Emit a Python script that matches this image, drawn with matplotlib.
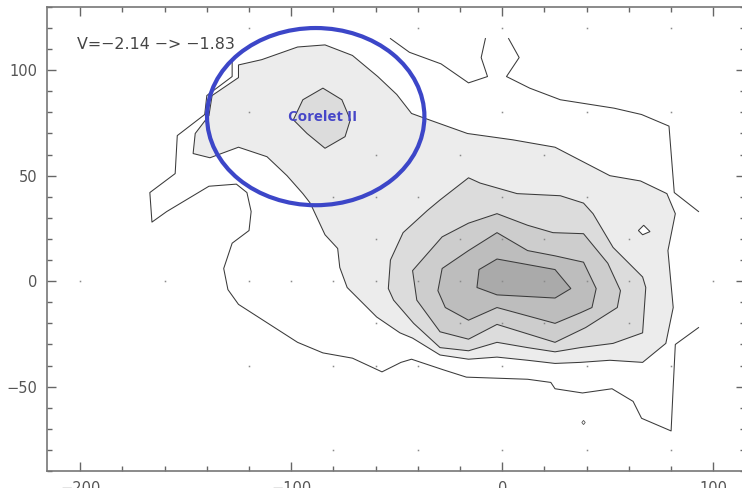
import matplotlib
matplotlib.use('Agg')
import matplotlib.pyplot as plt
from matplotlib.patches import Ellipse
from matplotlib.ticker import MultipleLocator

# contour outlines (data units), from lowest to highest level
lev1_a_x = [-128, -128, -140, -141, -154, -155, -167, -166, -159, -139, -126, -121, -119, -120,
            -128, -132, -130, -125, -97, -85, -71, -57, -48, -43, -28, -17, 12, 23, 25, 38, 52,
            62, 66, 80, 81, 82, 93]
lev1_a_y = [105.5, 97, 88, 79, 69, 51, 42, 28, 33, 45, 46, 42, 33, 24,
            18, 6, -4, -11, -29, -34, -36.5, -43, -38.5, -37, -42, -45.5, -46.5, -48, -51, -53, -51,
            -57, -65, -71, -50, -30, -22]
lev1_b_x = [-53, -44, -29, -16, -7, -10, -8]
lev1_b_y = [115, 108.5, 103, 94, 97, 106, 115]
lev1_c_x = [3, 8, 2, 13, 27.5, 53, 66, 79, 81.5, 93]
lev1_c_y = [115, 106, 97, 91.5, 86, 82, 79, 73.5, 42, 33]
hole_x = [64.5, 67, 70, 66.5]
hole_y = [24, 26.5, 23.5, 22]
speck_x = [37.7, 38.5, 39.3, 38.5]
speck_y = [-67, -66, -67, -68]

lev2_x = [-125, -114, -97, -84, -71, -59, -50, -43, -37.5, -16.5, 5, 25, 51, 65.5, 78, 82, 78.5,
          81, 77.5, 66.5, 51, 37, 25, 12, -2.5, -16, -29.5, -42.5, -48.5, -59.5, -73.5, -77,
          -78, -84, -91, -94.5, -102, -111.5, -125, -138.5, -146.5, -145.5, -139, -137.5, -125]
lev2_y = [102.5, 105, 111, 112, 107, 97, 88.5, 79.5, 77.5, 70, 67, 63.5, 50, 47.5, 41.5, 32, 14.5,
          -12.5, -29.5, -38.5, -37.5, -38.5, -39, -37.5, -36, -37, -35, -27, -24.5, -17, -3, 6.5,
          15.5, 22, 37, 41.5, 50, 59, 63.5, 58.5, 60.5, 70, 78.5, 88, 96.5]

lev3_blob_x = [-85, -76, -72, -74.5, -84, -92.5, -99, -94.5]
lev3_blob_y = [91.5, 86, 76.5, 68.5, 63, 70, 76.5, 86]
lev3_x = [-16, -10.5, 7, 27.5, 38.5, 43, 52.5, 66.5, 68, 66.5, 52.5, 37, 25, 12, -2.5, -16,
          -29.5, -42, -51.5, -54, -53, -47, -35.5, -29.5]
lev3_y = [49, 46.5, 41.5, 40.5, 37, 32, 16, 2, -3, -24.5, -29.5, -31.5, -33.5, -31.5, -29, -33,
          -31.5, -20, -9, -3.5, 10, 23, 33.5, 38.5]
lev4_x = [-42.5, -28.5, -16, -2.5, 12, 24, 38.5, 50, 56, 54.5, 39.5, 25, -2.5, -16, -29.5, -40.5]
lev4_y = [5, 21, 27.5, 32, 26.5, 23, 22.5, 8.5, -4.5, -12.5, -22, -29, -20.5, -27.5, -24, -9]
lev5_x = [-28.5, -16, -2.5, 12, 25, 38.5, 44.5, 42.5, 37, 25, -2.5, -16, -27, -30.5]
lev5_y = [6, 14.5, 23, 14.5, 12, 9, -3.5, -12.5, -15, -20, -12.5, -18.5, -12.5, -4.5]
lev6_x = [-11, -2.5, 25, 32.5, 25, -2.5, -12]
lev6_y = [5.5, 10.5, 5.5, -3.5, -8, -6.5, -3]

# sample grid positions, one row per y
grid_rows = {
    120: [-120, -40, 0, 40, 80],
    80: [-120, 0, 40, 80],
    60: [-60, -20, 20],
    40: [-80, -60, -40, 0, 40],
    20: [-60, -20, 0, 20, 60],
    0: [-200, -160, -120, -100, -80, -60, -40, -20, 0, 20, 40, 60, 100],
    -20: [-60, -20, 0, 20, 60],
    -40: [-120, -80, -60, -40, 0, 40, 80],
    -80: [-80, -40, 0, 40, 80],
}

vrange_label = 'V=\u22122.14 \u2212> \u22121.83'
region_label = 'Corelet II'
region_center = (-88.4, 78)
region_size = (103, 84)

fig = plt.figure(figsize=(7.42, 4.88), dpi=100)
ax = fig.add_axes([0.064, 0.0348, 0.940, 0.951])

line_kw = dict(edgecolor='#3a3a3a', linewidth=0.75)
shades = ['#ececec', '#dcdcdc', '#cdcdcd', '#bdbdbd', '#aaaaaa']

ax.fill(lev2_x, lev2_y, facecolor=shades[0], **line_kw)
ax.fill(lev3_blob_x, lev3_blob_y, facecolor=shades[1], **line_kw)
ax.fill(lev3_x, lev3_y, facecolor=shades[1], **line_kw)
ax.fill(lev4_x, lev4_y, facecolor=shades[2], **line_kw)
ax.fill(lev5_x, lev5_y, facecolor=shades[3], **line_kw)
ax.fill(lev6_x, lev6_y, facecolor=shades[4], **line_kw)
ax.fill(hole_x, hole_y, facecolor='white', **line_kw)
ax.fill(speck_x, speck_y, facecolor='white', edgecolor='#555555', linewidth=0.6)

for xs, ys in [(lev1_a_x, lev1_a_y), (lev1_b_x, lev1_b_y), (lev1_c_x, lev1_c_y)]:
    ax.plot(xs, ys, color='#3a3a3a', linewidth=0.75)

gx = [x for y, row in grid_rows.items() for x in row]
gy = [y for y, row in grid_rows.items() for x in row]
ax.plot(gx, gy, ls='none', marker='s', ms=1.1, mew=0, color='#8a8a8a')

ax.add_patch(Ellipse(region_center, region_size[0], region_size[1], fill=False,
                     edgecolor='#3c46c8', linewidth=3.0, zorder=5))
ax.text(region_center[0] + 3.5, region_center[1], region_label, color='#4646c8',
        fontsize=11, fontweight='bold', family='Open Sans', ha='center', va='center', zorder=6)
ax.text(0.0423, 0.918, vrange_label, transform=ax.transAxes, fontsize=11.4,
        color='#444444', ha='left', va='center')

ax.set_xlim(-215.5, 115)
ax.set_ylim(-90, 130)
ax.xaxis.set_major_locator(MultipleLocator(100))
ax.xaxis.set_minor_locator(MultipleLocator(20))
ax.yaxis.set_major_locator(MultipleLocator(50))
ax.yaxis.set_minor_locator(MultipleLocator(10))
ax.tick_params(which='both', direction='in', top=True, right=True, color='#666666',
               labelcolor='#555555', labelsize=10.5, width=1.0)
ax.tick_params(which='major', length=6.5, pad=7)
ax.tick_params(which='minor', length=3.6)
for s in ax.spines.values():
    s.set_color('#777777')
    s.set_linewidth(1.2)

fig.savefig('out.png', dpi=100)
